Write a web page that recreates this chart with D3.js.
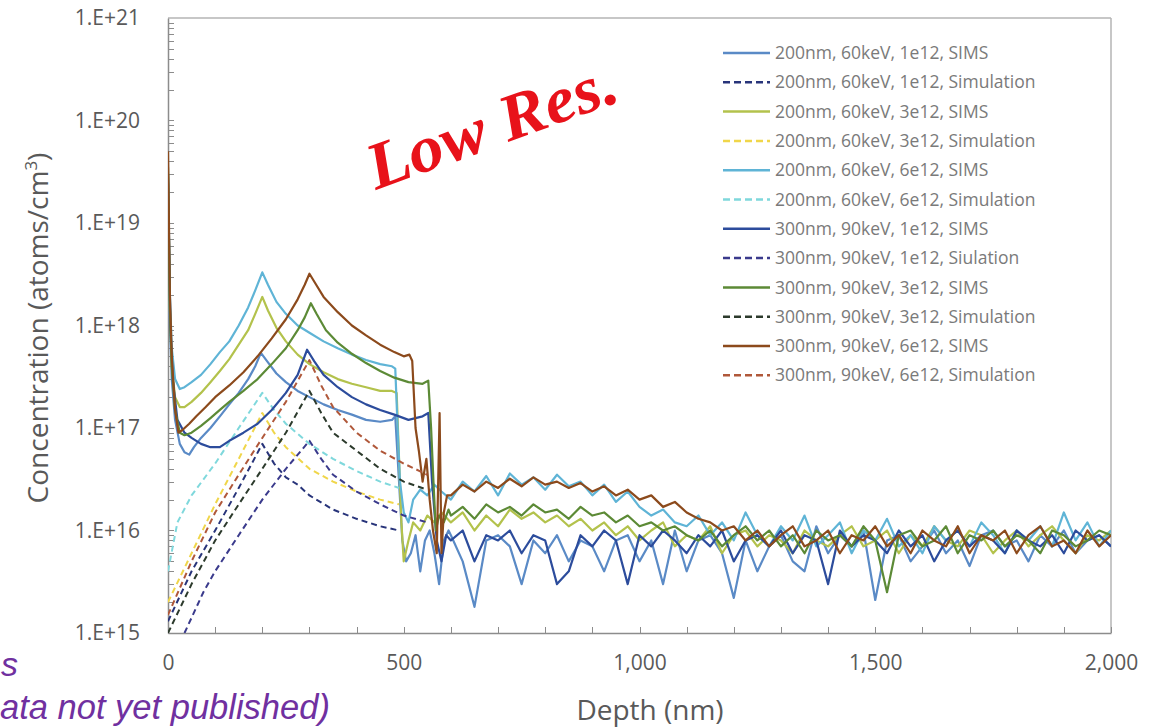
<!DOCTYPE html>
<html><head><meta charset="utf-8">
<script src="https://cdn.jsdelivr.net/npm/d3@7"></script>
<style>
html,body{margin:0;padding:0;background:#fff;}
svg{display:block;}
</style></head><body>
<svg id="chart" width="1149" height="727"></svg>
<script>
// ---------------- DATA ----------------
const xTickValues = [0, 500, 1000, 1500, 2000];
const yTickValues = [1e15, 1e16, 1e17, 1e18, 1e19, 1e20, 1e21];
const yTickLabels = ["1.E+15", "1.E+16", "1.E+17", "1.E+18", "1.E+19", "1.E+20", "1.E+21"];

const seriesLabels = [
  "200nm, 60keV, 1e12, SIMS",
  "200nm, 60keV, 1e12, Simulation",
  "200nm, 60keV, 3e12, SIMS",
  "200nm, 60keV, 3e12, Simulation",
  "200nm, 60keV, 6e12, SIMS",
  "200nm, 60keV, 6e12, Simulation",
  "300nm, 90keV, 1e12, SIMS",
  "300nm, 90keV, 1e12, Siulation",
  "300nm, 90keV, 3e12, SIMS",
  "300nm, 90keV, 3e12, Simulation",
  "300nm, 90keV, 6e12, SIMS",
  "300nm, 90keV, 6e12, Simulation"
];

// depth grid (nm) of the noisy SIMS tails
const tailDepth = [600,625,650,675,700,725,750,775,800,825,850,875,900,925,950,975,1000,1025,1050,1075,
  1100,1125,1150,1175,1200,1225,1250,1275,1300,1325,1350,1375,1400,1425,1450,1475,1500,1525,1550,1575,
  1600,1625,1650,1675,1700,1725,1750,1775,1800,1825,1850,1875,1900,1925,1950,1975,2000];

// SIMS heads: [depth nm, atoms/cm3]
const sims200_1e12_head = [[0,2.5e19],[4,1e18],[8,3e17],[15,1.2e17],[25,7e16],[35,5.8e16],[45,5.5e16],[55,6.5e16],[70,8e16],[90,1e17],[110,1.3e17],[130,1.7e17],[150,2.2e17],[170,3e17],[185,4e17],[197,5.4e17],[210,4.5e17],[230,3.4e17],[250,2.8e17],[275,2.3e17],[300,2e17],[330,1.7e17],[360,1.5e17],[390,1.35e17],[420,1.2e17],[450,1.15e17],[475,1.2e17],[482,1.3e17],[490,3e16],[497,8e15],[505,5e15],[515,6e15],[525,9e15],[535,4e15],[545,8e15],[555,1e16],[565,6e15],[575,3e15],[585,8e15],[595,1e16]];
const sims200_3e12_head = [[0,3e19],[4,1.5e18],[8,4e17],[15,2e17],[25,1.6e17],[35,1.6e17],[50,1.8e17],[70,2.2e17],[90,2.8e17],[110,3.6e17],[130,4.7e17],[150,6.5e17],[170,9e17],[185,1.3e18],[200,1.9e18],[212,1.4e18],[230,9.5e17],[250,7e17],[275,5.2e17],[300,4.2e17],[330,3.5e17],[360,3e17],[390,2.7e17],[420,2.5e17],[450,2.3e17],[475,2.3e17],[485,2.2e17],[490,5e16],[495,1.2e16],[500,5e15],[510,8e15],[520,1.2e16],[535,1e16],[550,1.4e16],[565,1.2e16],[580,1.5e16]];
const sims200_6e12_head = [[0,3e19],[4,2e18],[8,6e17],[15,3e17],[25,2.4e17],[35,2.5e17],[50,2.8e17],[70,3.3e17],[90,4.2e17],[110,5.5e17],[130,7e17],[150,1e18],[170,1.5e18],[185,2.2e18],[200,3.3e18],[212,2.5e18],[230,1.7e18],[250,1.3e18],[275,1e18],[300,8.5e17],[330,7e17],[360,6e17],[390,5.2e17],[420,4.6e17],[450,4.2e17],[475,4e17],[482,3.8e17],[487,1e17],[492,3e16],[500,1.5e16],[510,1.2e16],[520,2e16],[535,2.5e16],[550,2.2e16],[565,2.8e16],[580,2.4e16]];
const sims300_1e12_head = [[0,3e19],[5,1e18],[10,3e17],[20,1.2e17],[35,9e16],[50,8e16],[70,7e16],[90,6.5e16],[110,6.5e16],[130,7.5e16],[160,9e16],[190,1.1e17],[220,1.5e17],[250,2.2e17],[275,3.3e17],[295,5.8e17],[310,4.5e17],[330,3.3e17],[360,2.5e17],[390,2e17],[420,1.7e17],[450,1.5e17],[480,1.35e17],[510,1.2e17],[540,1.3e17],[552,1.4e17],[560,3e16],[570,8e15],[580,5e15],[590,9e15]];
const sims300_3e12_head = [[0,3.5e19],[4,1.5e18],[8,4e17],[15,1.5e17],[25,9e16],[35,8.5e16],[50,9e16],[70,1.05e17],[90,1.25e17],[110,1.5e17],[130,1.8e17],[160,2.3e17],[190,3e17],[220,4.2e17],[250,6e17],[275,9e17],[290,1.2e18],[303,1.65e18],[315,1.3e18],[335,9e17],[360,6.8e17],[390,5.3e17],[420,4.3e17],[450,3.6e17],[480,3.1e17],[510,2.8e17],[540,2.7e17],[552,2.9e17],[558,1e17],[563,3e16],[568,1e16],[575,1.4e16],[585,1.2e16],[595,1.6e16]];
const sims300_6e12_head = [[0,5e19],[4,2e18],[8,5e17],[15,1.5e17],[22,9e16],[30,9.5e16],[45,1.1e17],[60,1.3e17],[80,1.6e17],[100,2e17],[130,2.6e17],[160,3.5e17],[190,5e17],[220,7.5e17],[250,1.15e18],[275,1.8e18],[290,2.5e18],[300,3.2e18],[312,2.6e18],[330,1.9e18],[360,1.35e18],[390,1e18],[420,8e17],[450,6.5e17],[480,5.5e17],[500,5e17],[512,5.2e17],[518,4.5e17],[525,1e17],[532,6e16],[540,3e16],[548,5e16],[555,2e16],[562,1e16],[570,6e15],[576,1.4e17],[580,6e15],[585,1.5e16],[592,2.2e16]];

// SIMS tails on tailDepth, in units of 1e15 atoms/cm3
const sims200_1e12_tail = [9,5,1.8,8,9,7,3,8,6,9, 5,8,7,4,8,9,5,8,3,10, 4,8,9,6,2.2,8,4,7,9,5, 4,11,6,9,7,10,2.1,8,9,5, 7,10,6,8,4.5,9,10,7,8,5, 9,7,10,6,8,9,7];
const sims200_3e12_tail = [12,15,10,14,11,16,13,15,12,14, 11,13,10,12,9,11,8,10,12,7, 9,8,11,6,9,10,7,9,8,6, 10,8,7,9,11,7,8,10,6,9, 7,11,8,7,10,9,6,8,10,7, 9,11,8,6,9,8,10];
const sims200_6e12_tail = [20,30,24,34,22,36,28,33,25,35, 27,30,22,28,19,24,17,14,16,12, 11,14,9,12,8,15,9,7,11,8, 14,7,9,12,6,10,8,13,7,9, 6,11,8,10,7,12,9,6,10,8, 11,7,15,8,12,7,10];
const sims300_1e12_tail = [8,10,5,9,8,10,6,9,8,3, 4,9,7,10,8,3,9,7,10,8, 6,9,7,10,5,8,9,7,10,6, 9,8,3,10,7,9,8,6,10,7, 9,5,8,10,7,9,8,6,10,8, 7,9,6,10,8,9,7];
const sims300_3e12_tail = [14,17,13,18,15,17,14,18,15,16, 13,17,14,15,12,14,11,12,10,11, 9,8,10,7,9,11,8,10,7,9, 6,10,8,9,7,11,8,2.5,9,10, 7,8,11,6,9,8,10,7,9,8, 6,10,9,7,8,10,9];
const sims300_6e12_tail = [22,28,24,30,26,32,27,33,28,30, 26,29,24,27,22,25,20,22,17,19, 15,13,12,10,11,8,10,7,9,11, 7,8,10,6,9,8,11,7,9,6, 10,8,7,11,6,9,8,10,6,9, 11,7,8,6,10,7,9];
const TAIL_UNIT = 1e15;

// Simulations: [depth nm, atoms/cm3]
const sim200_1e12 = [[0,1.3e15],[50,4e15],[100,1e16],[150,2.6e16],[200,7e16],[225,4.5e16],[250,3.3e16],[275,2.8e16],[300,2.2e16],[350,1.6e16],[400,1.3e16],[450,1.1e16],[490,1e16]];
const sim200_3e12 = [[0,2e15],[50,6e15],[100,1.8e16],[150,5e16],[200,1.4e17],[225,9e16],[250,6.5e16],[300,4e16],[350,3e16],[400,2.4e16],[450,2e16],[490,1.8e16]];
const sim200_6e12 = [[0,4e15],[20,1.2e16],[50,2.2e16],[100,4.5e16],[150,1e17],[200,2.2e17],[225,1.5e17],[250,1.1e17],[300,7e16],[350,5e16],[400,3.8e16],[450,3e16],[490,2.6e16]];
const sim300_1e12 = [[35,1e15],[75,2.5e15],[100,4e15],[150,9e15],[200,2e16],[250,4e16],[300,7.5e16],[325,5e16],[350,3.5e16],[400,2.4e16],[450,1.8e16],[500,1.4e16],[550,1.2e16]];
const sim300_3e12 = [[0,1e15],[50,3e15],[100,8e15],[150,1.8e16],[200,4e16],[250,9e16],[300,2.3e17],[325,1.4e17],[350,9e16],[400,6e16],[450,4e16],[500,3e16],[550,2.5e16]];
const sim300_6e12 = [[0,1.5e15],[50,5e15],[100,1.5e16],[150,3.5e16],[200,8e16],[250,1.8e17],[300,4.6e17],[325,2.6e17],[350,1.6e17],[400,9e16],[450,6e16],[500,4.5e16],[550,3.5e16]];

// ---------------- STYLES ----------------
const seriesColors = ["#5a8ac6","#28347a","#b3c24c","#f0d64a","#5fb4d6","#7fd8dc",
                      "#2c4c9c","#3a3a8c","#5c8a36","#2c3a2c","#8c4a1c","#b0583a"];
const seriesDashed = [false,true,false,true,false,true,false,true,false,true,false,true];

// ---------------- BUILD ----------------
const joinTail = (head, tail) => head.concat(tailDepth.map((d, i) => [d, tail[i] * TAIL_UNIT]));
const seriesData = [
  joinTail(sims200_1e12_head, sims200_1e12_tail), sim200_1e12,
  joinTail(sims200_3e12_head, sims200_3e12_tail), sim200_3e12,
  joinTail(sims200_6e12_head, sims200_6e12_tail), sim200_6e12,
  joinTail(sims300_1e12_head, sims300_1e12_tail), sim300_1e12,
  joinTail(sims300_3e12_head, sims300_3e12_tail), sim300_3e12,
  joinTail(sims300_6e12_head, sims300_6e12_tail), sim300_6e12
];

const P = {left: 168, right: 1111, top: 18, bottom: 633};
const svg = d3.select("#chart");
const x = d3.scaleLinear().domain([0, 2000]).range([P.left, P.right]);
const y = d3.scaleLog().domain([1e15, 1e21]).range([P.bottom, P.top]);
const axisColor = "#8c8c8c";
const textColor = "#595959";
const FONT = "'Open Sans', 'Noto Sans', sans-serif";

svg.append("defs").append("clipPath").attr("id", "clip")
  .append("rect").attr("x", P.left).attr("y", P.top)
  .attr("width", P.right - P.left).attr("height", P.bottom - P.top);

// frame (top and right)
svg.append("line").attr("x1", P.left).attr("x2", P.right).attr("y1", P.top).attr("y2", P.top)
  .attr("stroke", "#b5b5b5").attr("stroke-width", 1.5);
svg.append("line").attr("x1", P.right).attr("x2", P.right).attr("y1", P.top).attr("y2", P.bottom)
  .attr("stroke", "#b5b5b5").attr("stroke-width", 1.5);

// minor ticks (inside)
const yMinor = [];
for (let e = 15; e < 21; e++) for (let k = 1; k <= 9; k++) yMinor.push(k * Math.pow(10, e));
svg.append("g").selectAll("line").data(yMinor).join("line")
  .attr("x1", P.left).attr("x2", P.left + 6)
  .attr("y1", d => Math.round(y(d)) + 0.5).attr("y2", d => Math.round(y(d)) + 0.5)
  .attr("stroke", axisColor).attr("stroke-width", 1);
const xMinor = d3.range(0, 2001, 100);
svg.append("g").selectAll("line").data(xMinor).join("line")
  .attr("x1", d => Math.round(x(d)) + 0.5).attr("x2", d => Math.round(x(d)) + 0.5)
  .attr("y1", P.bottom).attr("y2", P.bottom - 6)
  .attr("stroke", axisColor).attr("stroke-width", 1);

// axes
const gx = svg.append("g").attr("transform", `translate(0,${P.bottom})`)
  .call(d3.axisBottom(x).tickValues(xTickValues).tickFormat(d3.format(",")).tickSize(0).tickPadding(22));
const gy = svg.append("g").attr("transform", `translate(${P.left},0)`)
  .call(d3.axisLeft(y).tickValues(yTickValues).tickFormat((d, i) => yTickLabels[i]).tickSize(0).tickPadding(28));
[gx, gy].forEach(g => {
  g.select(".domain").attr("stroke", axisColor).attr("stroke-width", 1.5);
  g.selectAll("text").attr("fill", textColor).style("font-family", FONT).style("font-size", "21px");
});

// data lines
const line = d3.line().x(d => x(d[0])).y(d => y(d[1]));
const gl = svg.append("g").attr("clip-path", "url(#clip)");
seriesData.forEach((s, i) => {
  gl.append("path").datum(s).attr("d", line)
    .attr("fill", "none").attr("stroke", seriesColors[i])
    .attr("stroke-width", seriesDashed[i] ? 2 : 2.2)
    .attr("stroke-dasharray", seriesDashed[i] ? "6,4" : null)
    .attr("stroke-linejoin", "round");
});

// axis titles
svg.append("text").attr("x", 650).attr("y", 720).attr("text-anchor", "middle")
  .attr("fill", textColor).style("font-family", FONT).style("font-size", "28px").text("Depth (nm)");
const yt = svg.append("text").attr("transform", "translate(48,328) rotate(-90)").attr("text-anchor", "middle")
  .attr("fill", textColor).style("font-family", FONT).style("font-size", "28px");
yt.append("tspan").text("Concentration (atoms/cm");
yt.append("tspan").attr("baseline-shift", "super").style("font-size", "17px").text("3");
yt.append("tspan").text(")");

// legend
const lg = svg.append("g");
seriesLabels.forEach((lab, i) => {
  const yy = 53 + i * 29.3;
  lg.append("line").attr("x1", 723).attr("x2", 770).attr("y1", yy).attr("y2", yy)
    .attr("stroke", seriesColors[i]).attr("stroke-width", 2.5)
    .attr("stroke-dasharray", seriesDashed[i] ? "7,4" : null);
  lg.append("text").attr("x", 775).attr("y", yy).attr("dy", "0.35em")
    .attr("fill", "#7a7a7a").style("font-family", FONT).style("font-size", "17.5px").text(lab);
});

// "Low Res." stamp
svg.append("text").attr("transform", "translate(376,190) rotate(-20)")
  .attr("fill", "#e8121a").style("font-family", "'Liberation Serif', serif")
  .style("font-style", "italic").style("font-weight", "bold").style("font-size", "66px")
  .attr("textLength", 262).attr("lengthAdjust", "spacingAndGlyphs").text("Low Res.");

// purple note (the visible part of a note cropped at the picture's left edge)
const noteFont = "'Liberation Sans', Arial, sans-serif";
svg.append("text").attr("x", 1).attr("y", 676)
  .attr("fill", "#7030a0").style("font-family", noteFont).style("font-style", "italic").style("font-size", "34px")
  .text("s");
svg.append("text").attr("x", 0).attr("y", 719)
  .attr("fill", "#7030a0").style("font-family", noteFont).style("font-style", "italic").style("font-size", "34.5px")
  .text("ata not yet published)");
</script></body></html>
